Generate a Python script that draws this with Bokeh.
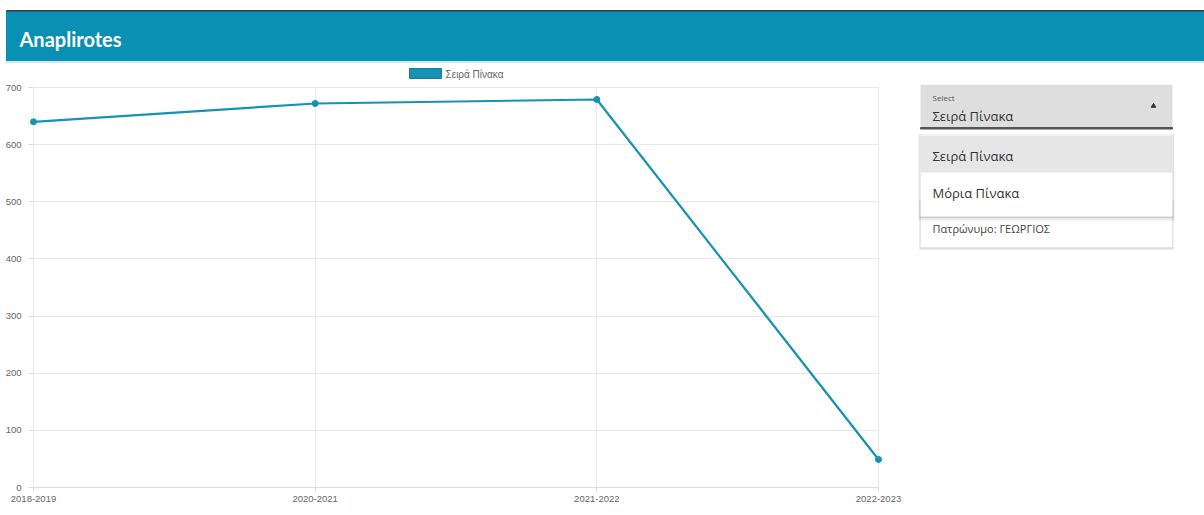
from bokeh.plotting import figure
from bokeh.models import (Range1d, FixedTicker, SingleIntervalTicker,
                          ColumnDataSource)
from bokeh.layouts import column, row
from bokeh.embed import file_html
from bokeh.resources import INLINE
from bokeh.core.properties import value

# ---- data -------------------------------------------------------------
seasons = ["2018-2019", "2020-2021", "2021-2022", "2022-2023"]
seira = [640, 672, 679, 49]
y_tick_step = 100
y_max = 700
series_name = "Σειρά Πίνακα"
title_text = "Anaplirotes"
select_label = "Select"
selected_option = "Σειρά Πίνακα"
menu_options = ["Σειρά Πίνακα", "Μόρια Πίνακα"]
card_text = "Πατρώνυμο: ΓΕΩΡΓΙΟΣ"

# ---- styling ----------------------------------------------------------
TEAL = "#0a90b4"
LINE = "#1792b4"
GRID = "#e8e8e8"
TICK_TXT = "#666666"
W, H = 1204, 515
TOP_H = 80                    # header bar + legend strip
BODY_H = H - TOP_H
CHART_W = 910

# plot area geometry (page pixels)
AX_L, AX_R = 33, 878          # x of first / last season
AX_TOP, AX_BOT = 87, 487      # y of y_max / 0
FRAME_TOP = 84                # frame starts a little above the top grid line
EDGE = 4                      # room so end markers are not cut in half


def blank(width, height, xr, yr, **kw):
    f = figure(width=width, height=height, x_range=xr, y_range=yr,
               output_backend="svg", toolbar_location=None,
               x_axis_location=None, y_axis_location=None, **kw)
    f.grid.visible = False
    f.outline_line_color = None
    f.background_fill_color = "white"
    f.border_fill_color = "white"
    return f


# ---- header bar + legend ------------------------------------------------
top = blank(W, TOP_H, Range1d(0, W), Range1d(TOP_H, 0), min_border=0)
top.quad(left=[6], right=[W], top=[10], bottom=[11.5], color="#3c3c3c")
top.quad(left=[6], right=[W], top=[11.5], bottom=[61], color=TEAL)
top.quad(left=[6], right=[W], top=[61], bottom=[62], color="#cfe8f0")
top.text(x=[19], y=[38], text=[title_text], text_font=value("Lato"),
         text_font_style="bold", text_font_size="20px",
         text_color="white", text_baseline="middle")

# legend key: box swatch + series name, centred over the plot area
top.quad(left=[409], right=[441], top=[68], bottom=[78],
         fill_color=LINE, line_color="#0e7f9e")
top.text(x=[445], y=[73.5], text=[series_name],
         text_font=value("Liberation Sans"), text_font_size="10px",
         text_color=TICK_TXT, text_baseline="middle")

# ---- line chart -------------------------------------------------------
n = len(seasons)
x_idx = list(range(n))
src = ColumnDataSource(dict(x=x_idx, y=seira))

px_per_x = (AX_R - AX_L) / (n - 1)
px_per_y = (AX_BOT - AX_TOP) / y_max
x_pad = EDGE / px_per_x
y_top = y_max + (AX_TOP - FRAME_TOP) / px_per_y

p = figure(width=CHART_W, height=BODY_H,
           x_range=Range1d(-x_pad, n - 1 + x_pad), y_range=Range1d(0, y_top),
           output_backend="svg", toolbar_location=None,
           min_border_left=AX_L - EDGE, min_border_right=CHART_W - AX_R - EDGE,
           min_border_top=FRAME_TOP - TOP_H,
           min_border_bottom=H - AX_BOT)
p.background_fill_color = "white"
p.border_fill_color = "white"
p.outline_line_color = None

p.xaxis.ticker = FixedTicker(ticks=x_idx)
p.xaxis.major_label_overrides = {i: s for i, s in enumerate(seasons)}
p.xaxis.bounds = (0, n - 1)
p.yaxis.ticker = SingleIntervalTicker(interval=y_tick_step)
p.xgrid.ticker = FixedTicker(ticks=x_idx)

for ax in (p.xaxis, p.yaxis):
    ax.axis_line_color = "#dcdcdc"
    ax.major_tick_line_color = "#dcdcdc"
    ax.minor_tick_line_color = None
    ax.major_label_text_font = "Liberation Sans"
    ax.major_label_text_font_size = "9.5px"
    ax.major_label_text_color = TICK_TXT
p.xaxis.major_tick_in = 0
p.xaxis.major_tick_out = 4
p.xaxis.major_label_standoff = 4
p.yaxis.axis_line_color = None
p.yaxis.major_tick_in = EDGE
p.yaxis.major_tick_out = 1
p.yaxis.major_label_standoff = 4

p.grid.grid_line_color = GRID
p.grid.grid_line_width = 1
p.xgrid.cross_bounds = (0, y_max)
p.ygrid.cross_bounds = (0, n - 1)

p.line("x", "y", source=src, line_color=LINE, line_width=2.2)
p.scatter("x", "y", source=src, size=6, color=LINE)

# ---- side panel: select + menu + info card -----------------------------
side = blank(W - CHART_W, BODY_H, Range1d(CHART_W, W), Range1d(AX_BOT, FRAME_TOP),
             min_border_left=0, min_border_right=0,
             min_border_top=FRAME_TOP - TOP_H, min_border_bottom=H - AX_BOT)

L, R = 920, 1172

# info card (partly behind the open menu)
for d, a in ((3, 0.04), (2, 0.06), (1, 0.09)):
    side.quad(left=[L - d / 2], right=[R + d / 2], top=[200], bottom=[247 + d],
              color="black", alpha=a, line_color=None)
side.quad(left=[L], right=[R], top=[200], bottom=[247], fill_color="white",
          line_color="#e6e6e6")
side.text(x=[932], y=[228], text=[card_text], text_font=value("Open Sans"),
          text_font_size="11px", text_color="#444444", text_baseline="middle")

# select field
side.quad(left=[L], right=[R], top=[84], bottom=[127], fill_color="#dedede",
          line_color=None)
side.quad(left=[L], right=[R], top=[127], bottom=[128.5], color="#555555")
side.text(x=[932], y=[97], text=[select_label], text_font=value("Open Sans"),
          text_font_size="8px", text_color="#555555", text_baseline="middle")
side.text(x=[932], y=[115], text=[selected_option], text_font=value("Open Sans"),
          text_font_size="13px", text_color="#333333", text_baseline="middle")
side.scatter(x=[1153], y=[105.5], marker="triangle", size=4.5, color="#333333")

# open menu with drop shadow
for d, a in ((5, 0.04), (3, 0.06), (1.5, 0.09)):
    side.quad(left=[L - d / 2], right=[R + d / 2], top=[134], bottom=[216 + d],
              color="black", alpha=a, line_color=None)
side.quad(left=[L], right=[R], top=[134], bottom=[216], fill_color="white",
          line_color=None)
side.quad(left=[L], right=[R], top=[135], bottom=[172], fill_color="#e6e6e6",
          line_color=None)
side.text(x=[932, 932], y=[155, 192], text=menu_options,
          text_font=value("Open Sans"), text_font_size="13px",
          text_color="#333333", text_baseline="middle")

layout = column(top, row(p, side, spacing=0), spacing=0)

open("out.html", "w").write(file_html(layout, INLINE))
